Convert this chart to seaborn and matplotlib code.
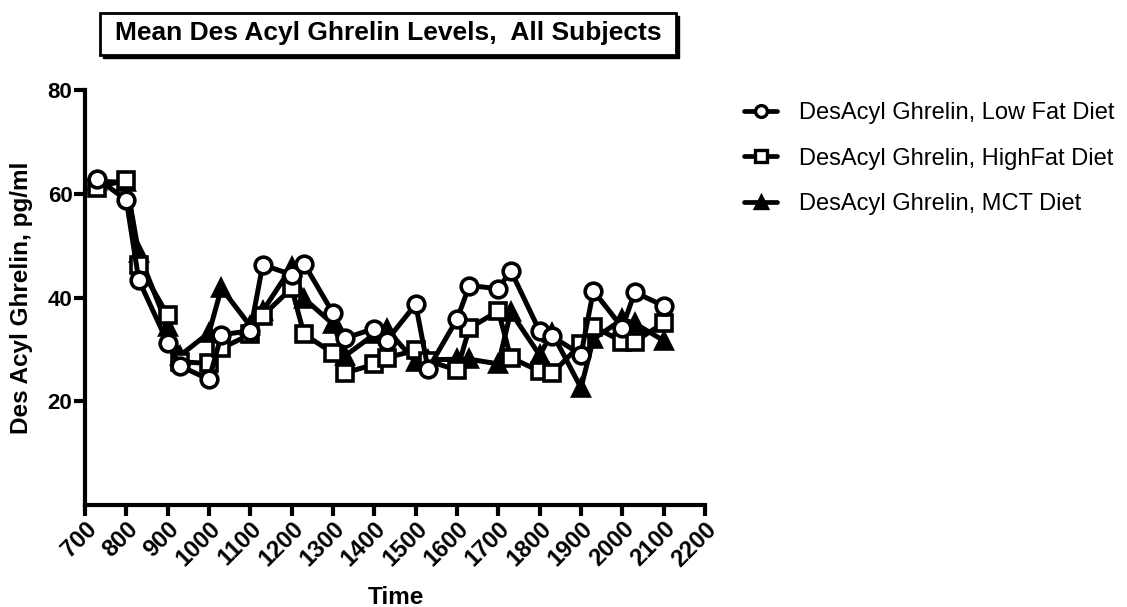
import matplotlib
matplotlib.use("Agg")
import matplotlib.pyplot as plt
from matplotlib.patches import Rectangle
from matplotlib.lines import Line2D
import pandas as pd
import seaborn as sns

# Sampling times (clock time written as hhmm)
times = [730, 800, 830, 900, 930, 1000, 1030, 1100, 1130, 1200, 1230, 1300, 1330, 1400,
         1430, 1500, 1530, 1600, 1630, 1700, 1730, 1800, 1830, 1900, 1930, 2000, 2030, 2100]

# Mean des-acyl ghrelin (pg/ml) per diet
low_fat = [62.9, 58.8, 43.4, 31.3, 26.8, 24.2, 32.8, 33.6, 46.3, 44.4, 46.5, 37.0, 32.2, 34.0,
           31.7, 38.7, 26.2, 35.8, 42.3, 41.7, 45.2, 33.5, 32.5, 29.0, 41.3, 34.2, 41.0, 38.4]
high_fat = [61.2, 62.7, 46.3, 36.6, 27.6, 27.3, 30.2, 32.9, 36.5, 41.8, 32.9, 29.3, 25.5, 27.1,
            28.4, 29.8, 27.8, 26.0, 34.1, 37.4, 28.4, 25.8, 25.4, 31.0, 34.4, 31.5, 31.5, 35.1]
mct = [62.4, 62.2, 48.5, 34.4, 28.8, 33.2, 41.8, 34.5, 37.4, 45.9, 39.8, 34.9, 28.8, 32.9,
       33.9, 27.6, 28.0, 28.1, 28.1, 27.2, 37.2, 28.9, 33.2, 22.6, 32.0, 35.8, 35.0, 31.7]

series_names = ["DesAcyl Ghrelin, Low Fat Diet",
                "DesAcyl Ghrelin, HighFat Diet",
                "DesAcyl Ghrelin, MCT Diet"]
x_ticks = list(range(700, 2201, 100))
y_ticks = [20, 40, 60, 80]

df = pd.DataFrame({
    "Time": times * 3,
    "Level": low_fat + high_fat + mct,
    "Diet": [series_names[0]] * len(times) + [series_names[1]] * len(times)
            + [series_names[2]] * len(times),
})

sns.set_theme(style="white")
plt.rcParams["font.family"] = ["Liberation Sans", "DejaVu Sans"]
plt.rcParams.update({"text.color": "black", "axes.labelcolor": "black",
                     "xtick.color": "black", "ytick.color": "black"})

W, H = 1127, 607
fig = plt.figure(figsize=(W / 100, H / 100), dpi=100)
ax = fig.add_axes([85 / W, 1 - 505 / H, (705 - 85) / W, (505 - 90) / H])

styles = {
    series_names[2]: dict(marker="^", mfc="black", ms=12),
    series_names[1]: dict(marker="s", mfc="white", ms=11),
    series_names[0]: dict(marker="o", mfc="white", ms=12),
}
for name in [series_names[2], series_names[1], series_names[0]]:
    sub = df[df["Diet"] == name]
    st = styles[name]
    sns.lineplot(data=sub, x="Time", y="Level", ax=ax, color="black", lw=3.6,
                 marker=st["marker"], markersize=st["ms"], markerfacecolor=st["mfc"],
                 markeredgecolor="black", markeredgewidth=2.6, legend=False,
                 estimator=None, sort=False, clip_on=False)

ax.set_xlim(700, 2200)
ax.set_ylim(0, 80)
ax.set_xticks(x_ticks)
ax.set_yticks(y_ticks)
ax.set_xticklabels([str(t) for t in x_ticks], rotation=45, ha="right", va="top",
                   rotation_mode="anchor", fontsize=17, fontweight="bold")
ax.set_yticklabels([str(t) for t in y_ticks], fontsize=16, fontweight="bold")
ax.tick_params(axis="both", direction="out", length=8, width=3, color="black",
               left=True, bottom=True)
ax.tick_params(axis="y", pad=1)
ax.tick_params(axis="x", pad=1)
for side in ["top", "right"]:
    ax.spines[side].set_visible(False)
for side in ["left", "bottom"]:
    ax.spines[side].set_linewidth(3)
    ax.spines[side].set_color("black")
    ax.spines[side].set_capstyle("projecting")

ax.set_xlabel("Time", fontsize=17.5, fontweight="bold")
ax.set_ylabel("Des Acyl Ghrelin, pg/ml", fontsize=17.5, fontweight="bold")
ax.xaxis.set_label_coords((396 - 85) / (705 - 85), -(597 - 505) / (505 - 90))
ax.yaxis.set_label_coords(-(85 - 22) / (705 - 85), 0.5)
ax.xaxis.label.set_va("center")
ax.yaxis.label.set_va("center")

# Boxed title with a drop shadow
x0, x1, y0, y1 = 100, 676, 13, 55
fig.patches.append(Rectangle((x0 / W + 3 / W, 1 - y1 / H - 3 / H), (x1 - x0) / W, (y1 - y0) / H,
                             transform=fig.transFigure, fc="black", ec="black", lw=1, zorder=1))
fig.patches.append(Rectangle((x0 / W, 1 - y1 / H), (x1 - x0) / W, (y1 - y0) / H,
                             transform=fig.transFigure, fc="white", ec="black", lw=2, zorder=2))
fig.text((x0 + x1) / 2 / W, 1 - 33 / H, "Mean Des Acyl Ghrelin Levels,  All Subjects",
         ha="center", va="center", fontsize=19, fontweight="bold", color="black", zorder=3)

# Legend
handles = [
    Line2D([], [], color="black", lw=3.4, marker="o", ms=8.5, mfc="white", mec="black", mew=2.4),
    Line2D([], [], color="black", lw=3.4, marker="s", ms=8, mfc="white", mec="black", mew=2.4),
    Line2D([], [], color="black", lw=3.4, marker="^", ms=9, mfc="black", mec="black", mew=2.4),
]
fig.legend(handles, series_names, loc="upper left", bbox_to_anchor=(744 / W, 1 - 102 / H),
           frameon=False, fontsize=17, handlelength=1.4, handletextpad=0.95,
           labelspacing=1.0, borderpad=0, borderaxespad=0)

fig.savefig("out.png", dpi=100)
